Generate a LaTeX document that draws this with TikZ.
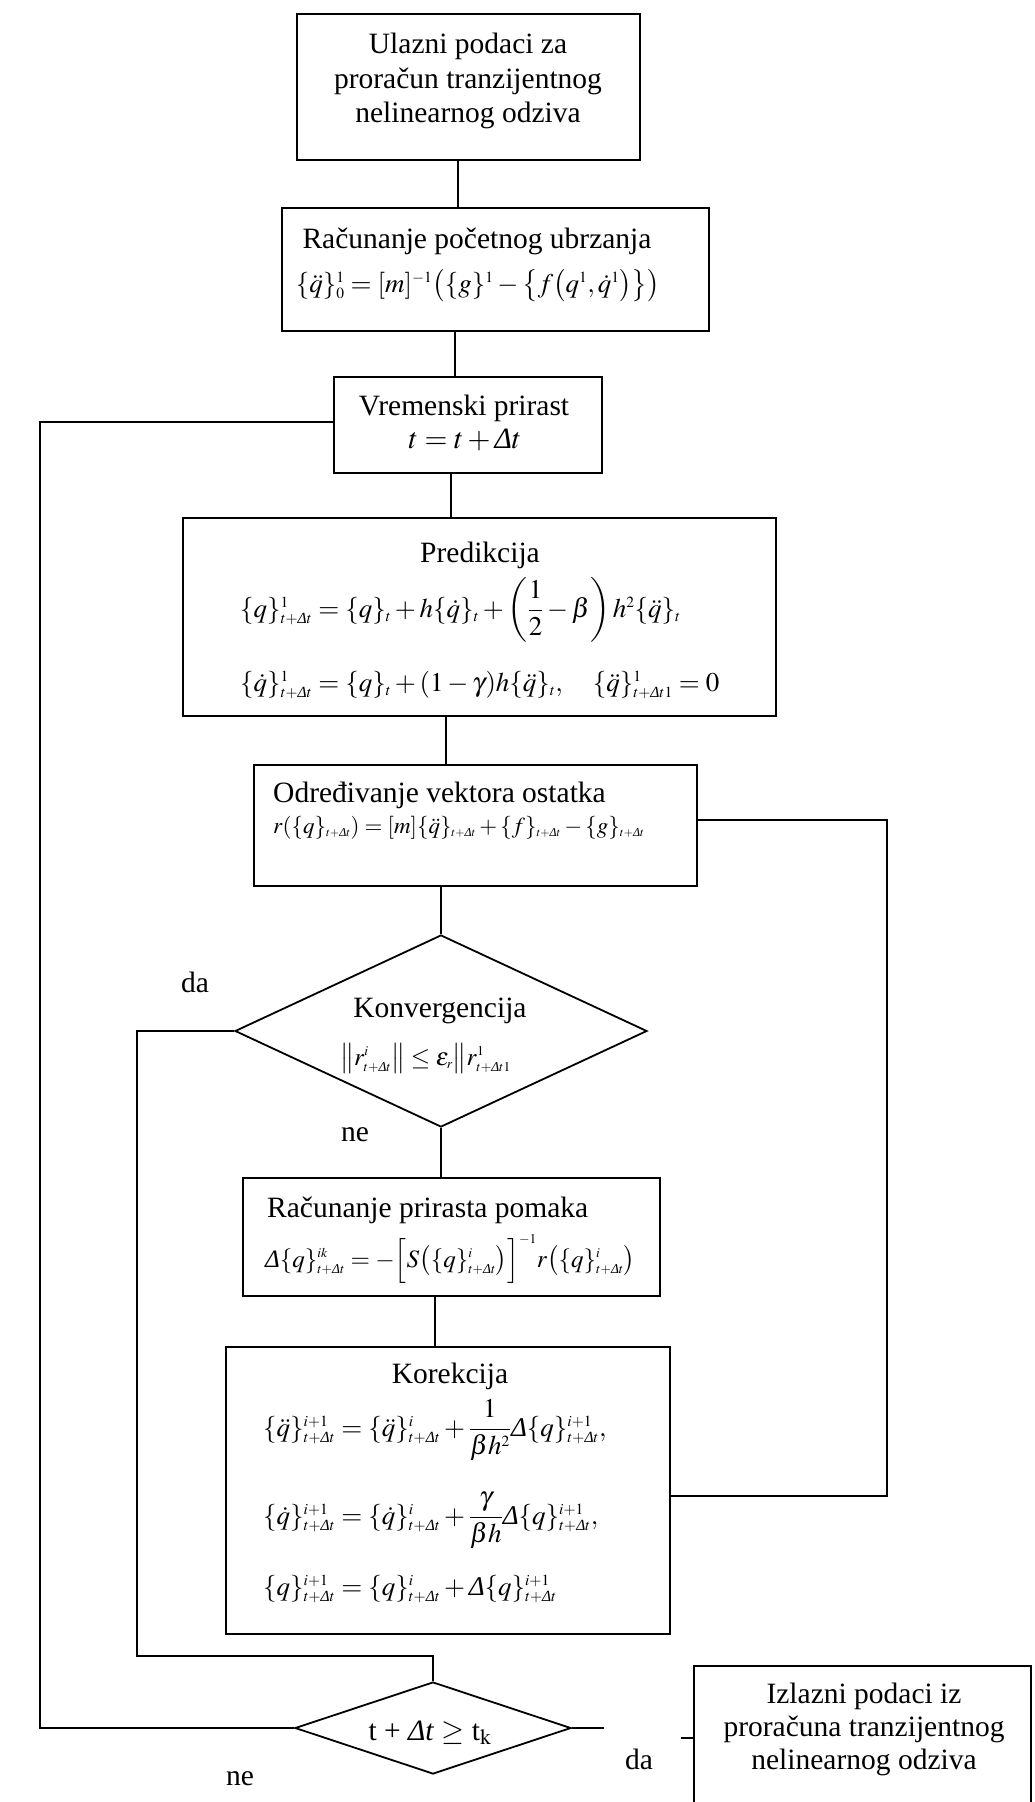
\documentclass[tikz,border=0pt]{standalone}
\usepackage{amsmath}
\usepackage{mathptmx}
\usepackage{fontspec}
\setmainfont{Liberation Serif}
\usetikzlibrary{shapes.geometric}
\DeclareMathSizes{27}{27}{15.5}{11}
\DeclareMathSizes{25}{25}{13.5}{10}
\DeclareMathSizes{23}{23}{12}{9}
\newcommand{\Dlt}{\text{\textit{Δ}}}
\begin{document}
\begin{tikzpicture}[x=1pt,y=-1pt,
  box/.style={draw, rectangle, line width=1.8pt, inner sep=0pt},
  dia/.style={draw, diamond, line width=1.8pt, inner sep=0pt},
  txt/.style={inner sep=0pt, anchor=base, font=\fontsize{29.5}{35}\selectfont},
  txtw/.style={txt, anchor=base west},
  mth/.style={inner sep=0pt, anchor=base west, font=\fontsize{27}{33}\selectfont},
  mthm/.style={inner sep=0pt, anchor=base, font=\fontsize{27}{33}\selectfont},
  mths/.style={inner sep=0pt, anchor=base west, font=\fontsize{25}{30}\selectfont},
  mthx/.style={inner sep=0pt, anchor=base west, font=\fontsize{23}{28}\selectfont},
  conn/.style={line width=1.8pt}]
\useasboundingbox (0,0) rectangle (1034,1802);
\clip (0,0) rectangle (1034,1802);
% boxes
\node[box, minimum width=343pt, minimum height=146pt] (b1) at (468.5,87) {};
\node[box, minimum width=427pt, minimum height=123pt] (b2) at (495.5,269.5) {};
\node[box, minimum width=268pt, minimum height=96pt] (b3) at (468,425) {};
\node[box, minimum width=593pt, minimum height=198pt] (b4) at (479.5,617) {};
\node[box, minimum width=443pt, minimum height=121pt] (b5) at (475.5,825.5) {};
\node[dia, minimum width=412pt, minimum height=192pt] (d1) at (441,1031) {};
\node[box, minimum width=417pt, minimum height=118pt] (b6) at (451.5,1237) {};
\node[box, minimum width=444pt, minimum height=287pt] (b7) at (448,1490.5) {};
\node[dia, minimum width=276pt, minimum height=92pt] (d2) at (433,1728) {};
\node[box, minimum width=337pt, minimum height=144pt] (out) at (862.5,1738) {};
% texts
\node[txt] (t1a) at (468,53) {Ulazni podaci za};
\node[txt] (t1b) at (468,88) {proračun tranzijentnog};
\node[txt] (t1c) at (468,122) {nelinearnog odziva};
\node[txt] (t2a) at (477,248) {Računanje početnog ubrzanja};
\node[mthm] (t2b) at (478,292) {$\{\ddot q\}^{1}_{0}=[m]^{-1}\bigl(\{g\}^{1}-\bigl\{f\bigl(q^{1},\dot q^{1}\bigr)\bigr\}\bigr)$};
\node[txt] (t3a) at (464,415) {Vremenski prirast};
\node[txt] (t3b) at (465,448) {$t=t+\Dlt t$};
\node[txt] (t4a) at (480,562) {Predikcija};
\node[mth] (t4b) at (240,617) {$\{q\}^{1}_{t+\Dlt t}=\{q\}_{t}+h\{\dot q\}_{t}+\left(\dfrac{1}{2}-\beta\right)h^{2}\{\ddot q\}_{t}$};
\node[mth] (t4c) at (240,691) {$\{\dot q\}^{1}_{t+\Dlt t}=\{q\}_{t}+(1-\gamma)h\{\ddot q\}_{t},\quad\{\ddot q\}^{1}_{t+\Dlt t1}=0$};
\node[txtw] (t5a) at (273,802) {Određivanje vektora ostatka};
\node[mthx] (t5b) at (273,833) {$r(\{q\}_{t+\Dlt t})=[m]\{\ddot q\}_{t+\Dlt t}+\{f\}_{t+\Dlt t}-\{g\}_{t+\Dlt t}$};
\node[txt] (td1a) at (440,1017) {Konvergencija};
\node[mths] (td1b) at (340,1065) {$\bigl\|r^{i}_{t+\Dlt t}\bigr\|\le\varepsilon_{r}\bigl\|r^{1}_{t+\Dlt t1}$};
\node[txt] (lda1) at (195,992) {da};
\node[txt] (lne1) at (355,1141) {ne};
\node[txtw] (t6a) at (267,1217) {Računanje prirasta pomaka};
\node[mths] (t6b) at (265,1267) {$\Dlt\{q\}^{ik}_{t+\Dlt t}=-\Bigl[S\bigl(\{q\}^{i}_{t+\Dlt t}\bigr)\Bigr]^{-1}r\bigl(\{q\}^{i}_{t+\Dlt t}\bigr)$};
\node[txt] (t7a) at (450,1383) {Korekcija};
\node[mth] (t7b) at (263,1436) {$\{\ddot q\}^{i+1}_{t+\Dlt t}=\{\ddot q\}^{i}_{t+\Dlt t}+\dfrac{1}{\beta h^{2}}\Dlt\{q\}^{i+1}_{t+\Dlt t},$};
\node[mth] (t7c) at (263,1524) {$\{\dot q\}^{i+1}_{t+\Dlt t}=\{\dot q\}^{i}_{t+\Dlt t}+\dfrac{\gamma}{\beta h}\Dlt\{q\}^{i+1}_{t+\Dlt t},$};
\node[mth] (t7d) at (263,1595) {$\{q\}^{i+1}_{t+\Dlt t}=\{q\}^{i}_{t+\Dlt t}+\Dlt\{q\}^{i+1}_{t+\Dlt t}$};
\node[txt] (td2) at (430,1740) {t + \textit{Δt} $\ge$ t$_{\mathrm{k}}$};
\node[txt] (lne2) at (240,1785) {ne};
\node[txt] (lda2) at (639,1769) {da};
\node[txt] (to1) at (864,1703) {Izlazni podaci iz};
\node[txt] (to2) at (864,1736) {proračuna tranzijentnog};
\node[txt] (to3) at (864,1769) {nelinearnog odziva};
% connectors
\coordinate (x1) at (458,0);
\coordinate (x2) at (455,0);
\coordinate (x3) at (451,0);
\coordinate (x4) at (446,0);
\coordinate (x6) at (435,0);
\draw[conn] (x1 |- b1.south) -- (x1 |- b2.north);
\draw[conn] (x2 |- b2.south) -- (x2 |- b3.north);
\draw[conn] (x3 |- b3.south) -- (x3 |- b4.north);
\draw[conn] (x4 |- b4.south) -- (x4 |- b5.north);
\draw[conn] (d1.north |- b5.south) -- (d1.north);
\draw[conn] (d1.south) -- (d1.south |- b6.north);
\draw[conn] (x6 |- b6.south) -- (x6 |- b7.north);
% right loop (back to residual)
\coordinate (rl1) at (887,820);
\coordinate (rl2) at (887,1496);
\draw[conn] (rl2 -| b7.east) -- (rl2) -- (rl1) -- (rl1 -| b5.east);
% inner loop (da)
\coordinate (il1) at (137,1031);
\coordinate (il2) at (137,1656);
\draw[conn] (d1.west) -- (il1) -- (il2) -- (il2 -| d2.north) -- (d2.north);
% outer loop (ne)
\coordinate (ol1) at (40,1728);
\coordinate (ol2) at (40,422);
\draw[conn] (d2.west) -- (ol1) -- (ol2) -- (ol2 -| b3.west);
% exit
\coordinate (e1) at (604,1728);
\coordinate (e2) at (681,1738);
\draw[conn] (d2.east) -- (e1);
\draw[conn] (e2) -- (out.west);
\end{tikzpicture}
\end{document}
